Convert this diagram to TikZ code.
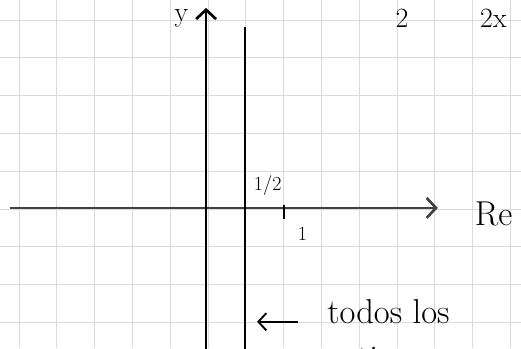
\documentclass[tikz,border=0pt]{standalone}
\usetikzlibrary{arrows.meta}

\begin{document}
\begin{tikzpicture}[
        gridline/.style={draw=black!14, line width=0.6pt},
        axis/.style={line width=2.1pt, -{Straight Barb[length=7pt, width=15pt, line width=2pt]}},
        line/.style={line width=2.1pt},
        hand/.style={font=\fontsize{26}{30}\selectfont, inner sep=0pt},
        top/.style={font=\fontsize{21}{24}\selectfont, inner sep=0pt},
        small/.style={font=\fontsize{15}{18}\selectfont, inner sep=0pt},
        ]

        \clip (-5.5,-3.68) rectangle (8.28,5.53);
        \fill[white] (-5.5,-3.68) rectangle (8.28,5.53);
        \draw[gridline] (-5.5,-3.68) grid (8.28,5.53);

        \coordinate (rel) at (-5.24,0.03);
        \coordinate (rer) at (6.08,0.03);
        \coordinate (imb) at (-0.05,-3.8);
        \coordinate (imt) at (-0.05,5.32);
        \coordinate (hb) at (0.98,-3.8);
        \coordinate (ht) at (0.98,4.81);
        \coordinate (t1) at (2.01,0.12);
        \coordinate (t2) at (2.01,-0.25);
        \coordinate (al) at (1.30,-2.98);
        \coordinate (ar) at (2.38,-2.98);

        \draw[axis, draw=black!75] (rel) -- (rer);
        \draw[axis] (imb) -- (imt);
        \draw[line] (hb) -- (ht);
        \draw[line width=1.4pt] (t1) -- (t2);
        \draw[line width=1.4pt, -{Straight Barb[length=6pt, width=13pt, line width=1.4pt]}] (ar) -- (al);

        \node (re) [hand, anchor=west] at (7.05,-0.12) {Re};
        \node (y) [top] at (-0.7,5.05) {y};
        \node (two) [top] at (5.13,5.05) {2};
        \node (twox) [top] at (7.55,5.05) {2x};
        \node (half) [small] at (1.58,0.62) {1/2};
        \node (one) [small] at (2.5,-0.65) {1};
        \node (todos) [hand, anchor=west] at (3.15,-2.72) {todos los};
        \node (rest) [hand, anchor=west] at (3.15,-3.95) {activos en};
    \end{tikzpicture}
\end{document}
